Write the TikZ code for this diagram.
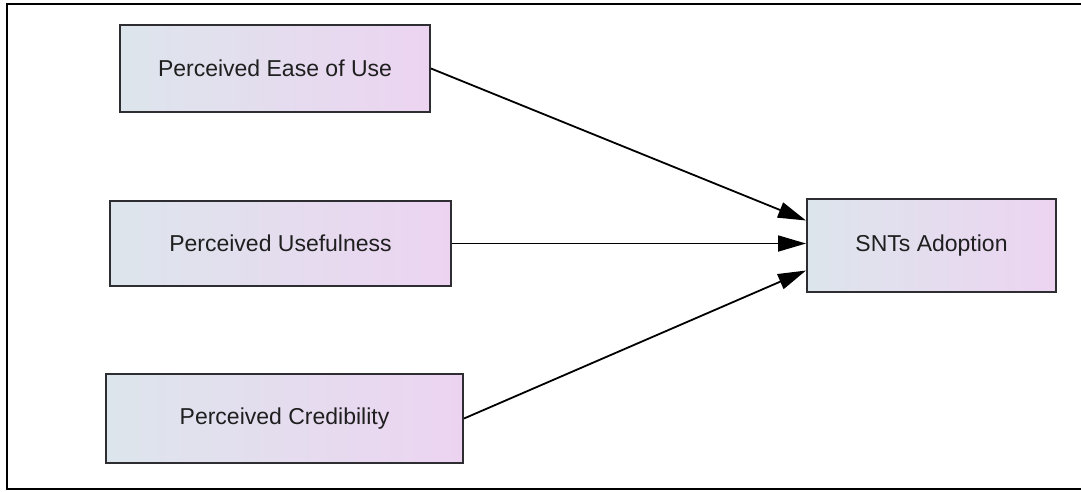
\documentclass[tikz,border=0pt]{standalone}
\usepackage{fontspec}
\setmainfont{Liberation Sans}
\usetikzlibrary{arrows.meta}
\definecolor{boxleft}{RGB}{221,229,236}
\definecolor{boxright}{RGB}{236,212,241}
\definecolor{boxline}{RGB}{45,45,50}
\begin{document}
\begin{tikzpicture}[x=1pt, y=-1pt,
  font=\fontsize{23}{27}\selectfont,
  cons/.style={draw=boxline, line width=2pt, left color=boxleft, right color=boxright,
    text=black!88, inner sep=0pt},
  ar/.style={line width=1.8pt, -{Triangle[length=28pt,width=16pt]}}]
\useasboundingbox (0,0) rectangle (1081,491);
\draw[line width=2.2pt] (7,4) rectangle (1083,489);
\node[cons, minimum width=310pt, minimum height=87pt] (ease) at (275,68.5) {Perceived Ease of Use};
\node[cons, minimum width=341pt, minimum height=85pt] (useful) at (280.5,243.5) {Perceived Usefulness};
\node[cons, minimum width=357pt, minimum height=89pt] (cred) at (284.5,418.5) {Perceived Credibility};
\node[cons, minimum width=249pt, minimum height=93pt] (adopt) at (931.5,245.5) {SNTs Adoption};
\draw[ar] (ease.east) -- ([yshift=25pt]adopt.west);
\draw[ar] (useful.east) -- ([yshift=2pt]adopt.west);
\draw[ar] (cred.east) -- ([yshift=-25pt]adopt.west);
\end{tikzpicture}
\end{document}
